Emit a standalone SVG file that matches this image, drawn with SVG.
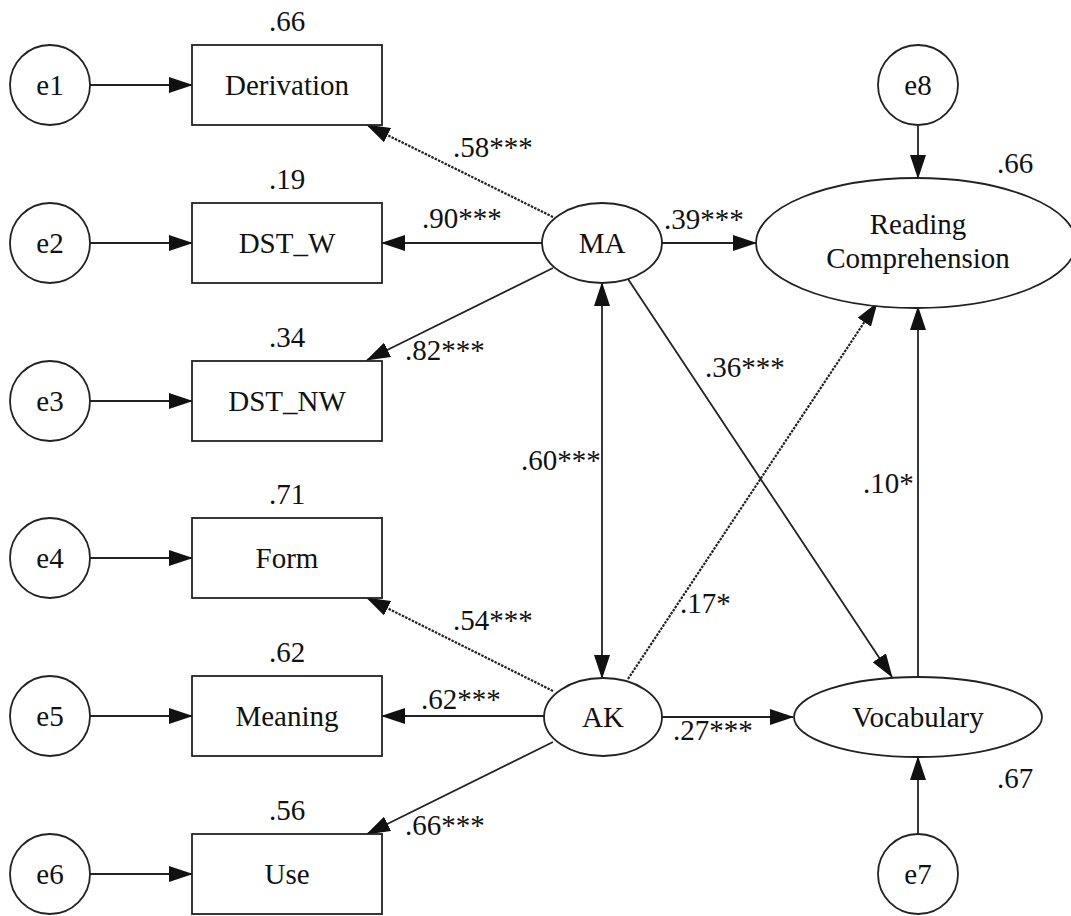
<svg xmlns="http://www.w3.org/2000/svg" width="1071" height="916" viewBox="0 0 1071 916">
<style>
text{font-family:'Liberation Serif','Times New Roman',serif;font-size:29px;fill:#111}
.c{text-anchor:middle}
.shape{fill:#fff;stroke:#222;stroke-width:1.8}
.ln{stroke:#222;stroke-width:1.8;fill:none;marker-end:url(#ah)}
.dot{stroke-dasharray:2.5 1.2;stroke-width:2.2}
.dbl{marker-start:url(#ah)}
</style>
<defs>
<marker id="ah" viewBox="0 0 24 16" markerWidth="24" markerHeight="16" refX="23" refY="8" orient="auto-start-reverse" markerUnits="userSpaceOnUse">
<path d="M0,0 L24,8 L0,16 Z" fill="#111"/>
</marker>
</defs>
<rect width="1071" height="916" fill="#fff"/>
<g id="connectors">
<line class="ln" x1="90" y1="85" x2="192" y2="85"/>
<line class="ln" x1="90" y1="243" x2="192" y2="243"/>
<line class="ln" x1="90" y1="401" x2="192" y2="401"/>
<line class="ln" x1="90" y1="558" x2="192" y2="558"/>
<line class="ln" x1="90" y1="716" x2="192" y2="716"/>
<line class="ln" x1="90" y1="874" x2="192" y2="874"/>
<line class="ln dot" x1="553" y1="217" x2="367" y2="125"/>
<line class="ln" x1="542" y1="243" x2="382" y2="243"/>
<line class="ln" x1="553" y1="268" x2="367" y2="360"/>
<line class="ln" x1="662" y1="243" x2="756" y2="243"/>
<line class="ln dbl" x1="602" y1="283" x2="602" y2="678"/>
<line class="ln" x1="628" y1="279" x2="892" y2="677"/>
<line class="ln dot" x1="553" y1="691" x2="367" y2="598"/>
<line class="ln" x1="544" y1="716" x2="382" y2="716"/>
<line class="ln" x1="553" y1="742" x2="367" y2="834"/>
<line class="ln dot" x1="628" y1="679" x2="877" y2="303"/>
<line class="ln" x1="662" y1="717" x2="793" y2="717"/>
<line class="ln" x1="918" y1="677" x2="918" y2="307"/>
<line class="ln" x1="918" y1="125" x2="918" y2="178"/>
<line class="ln" x1="918" y1="834" x2="918" y2="757"/>
<text x="453" y="157">.58***</text>
<text x="422" y="228">.90***</text>
<text x="405" y="360">.82***</text>
<text x="664" y="229">.39***</text>
<text x="705" y="377">.36***</text>
<text x="521" y="470">.60***</text>
<text x="863" y="493">.10*</text>
<text x="453" y="630">.54***</text>
<text x="680" y="613">.17*</text>
<text x="421" y="709">.62***</text>
<text x="673" y="740">.27***</text>
<text x="405" y="835">.66***</text>
</g>
<g id="e1"><circle class="shape" cx="50" cy="85" r="40"/><text class="c" x="50" y="95">e1</text></g>
<g id="e2"><circle class="shape" cx="50" cy="243" r="40"/><text class="c" x="50" y="253">e2</text></g>
<g id="e3"><circle class="shape" cx="50" cy="401" r="40"/><text class="c" x="50" y="411">e3</text></g>
<g id="e4"><circle class="shape" cx="50" cy="558" r="40"/><text class="c" x="50" y="568">e4</text></g>
<g id="e5"><circle class="shape" cx="50" cy="716" r="40"/><text class="c" x="50" y="726">e5</text></g>
<g id="e6"><circle class="shape" cx="50" cy="874" r="40"/><text class="c" x="50" y="884">e6</text></g>
<g id="derivation"><rect class="shape" x="192" y="45" width="190" height="80"/><text class="c" x="287" y="95">Derivation</text><text class="c" x="287" y="31">.66</text></g>
<g id="dst_w"><rect class="shape" x="192" y="203" width="190" height="80"/><text class="c" x="287" y="253">DST_W</text><text class="c" x="287" y="189">.19</text></g>
<g id="dst_nw"><rect class="shape" x="192" y="361" width="190" height="80"/><text class="c" x="287" y="411">DST_NW</text><text class="c" x="287" y="347">.34</text></g>
<g id="form"><rect class="shape" x="192" y="518" width="190" height="80"/><text class="c" x="287" y="568">Form</text><text class="c" x="287" y="504">.71</text></g>
<g id="meaning"><rect class="shape" x="192" y="676" width="190" height="80"/><text class="c" x="287" y="726">Meaning</text><text class="c" x="287" y="662">.62</text></g>
<g id="use"><rect class="shape" x="192" y="834" width="190" height="80"/><text class="c" x="287" y="884">Use</text><text class="c" x="287" y="820">.56</text></g>
<g id="ma"><ellipse class="shape" cx="602" cy="243" rx="60" ry="40"/><text class="c" x="602" y="253">MA</text></g>
<g id="ak"><ellipse class="shape" cx="603" cy="717" rx="59" ry="39"/><text class="c" x="603" y="727">AK</text></g>
<g id="rc"><ellipse class="shape" cx="916" cy="243" rx="160" ry="65"/><text class="c" x="918" y="234">Reading</text><text class="c" x="918" y="268">Comprehension</text><text x="997" y="173">.66</text></g>
<g id="vocabulary"><ellipse class="shape" cx="918" cy="717" rx="124" ry="40"/><text class="c" x="918" y="727">Vocabulary</text><text x="997" y="788">.67</text></g>
<g id="e8"><circle class="shape" cx="918" cy="85" r="40"/><text class="c" x="918" y="95">e8</text></g>
<g id="e7"><circle class="shape" cx="918" cy="874" r="40"/><text class="c" x="918" y="884">e7</text></g>
</svg>
